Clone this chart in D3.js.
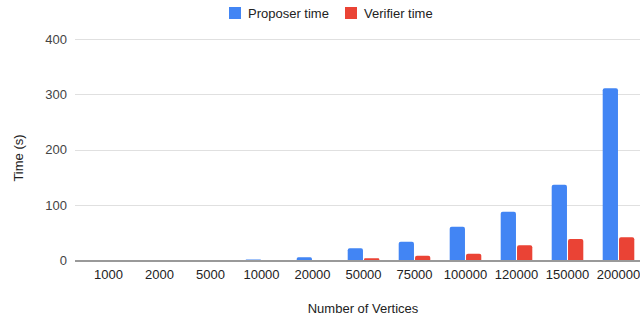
<!DOCTYPE html>
<html><head><meta charset="utf-8">
<script src="https://cdn.jsdelivr.net/npm/d3@7/dist/d3.min.js"></script>
<style>body{margin:0;background:#fff}svg{display:block;font-family:"Liberation Sans",Arial,sans-serif}</style>
</head><body><svg id="c" width="640" height="319"></svg>
<script>
const categories = ["1000","2000","5000","10000","20000","50000","75000","100000","120000","150000","200000"];
const proposerTime = [0.2, 0.4, 0.8, 2, 5.8, 22, 34, 61, 88, 137, 311];
const verifierTime = [0.05, 0.1, 0.2, 0.4, 0.8, 4, 8.7, 12.3, 27.5, 39, 42];
const yTicks = [0, 100, 200, 300, 400];
const seriesNames = ["Proposer time", "Verifier time"];
const colors = ["#4285f4", "#ea4335"];

const svg = d3.select("#c");
const x = d3.scaleBand().domain(categories).range([83, 644]).paddingInner(0).paddingOuter(0);
const y = d3.scaleLinear().domain([0, 400]).range([260.5, 39]);
const xs = d3.scaleBand().domain([0,1]).range([0, 31.6]).paddingInner(0.065);

svg.append("g").selectAll("line").data(yTicks.filter(d=>d>0)).join("line")
  .attr("x1", 75).attr("x2", 640)
  .attr("y1", d=>Math.round(y(d))+0.5).attr("y2", d=>Math.round(y(d))+0.5)
  .attr("stroke", "#e0e0e0").attr("stroke-width", 1);

svg.append("g").selectAll("text").data(yTicks).join("text")
  .attr("x", 67).attr("y", d=>y(d)+4.5).attr("text-anchor","end")
  .attr("font-size", 13).attr("fill", "#444").text(d=>d);

function barPath(x0, w, yTop, yBase){
  const h = yBase - yTop; const r = Math.min(2, h/2, w/2);
  if (h <= 0) return "";
  return `M${x0},${yBase}V${yTop+r}Q${x0},${yTop} ${x0+r},${yTop}H${x0+w-r}Q${x0+w},${yTop} ${x0+w},${yTop+r}V${yBase}Z`;
}
const series = [proposerTime, verifierTime];
series.forEach((vals, si) => {
  svg.append("g").selectAll("path").data(categories).join("path")
    .attr("d", (c,i) => {
      const x0 = x(c) + (x.bandwidth()-31.6)/2 + xs(si);
      return barPath(x0, xs.bandwidth(), y(vals[i]), y(0));
    })
    .attr("fill", colors[si]);
});

svg.append("line").attr("x1", 75).attr("x2", 640).attr("y1", 261).attr("y2", 261)
  .attr("stroke", "#999").attr("stroke-width", 2);

svg.append("g").selectAll("text").data(categories).join("text")
  .attr("x", d=>x(d)+x.bandwidth()/2).attr("y", 279).attr("text-anchor","middle")
  .attr("font-size", 13).attr("fill", "#222").text(d=>d);

svg.append("text").attr("x", 363).attr("y", 313).attr("text-anchor","middle")
  .attr("font-size", 13).attr("fill", "#222").text("Number of Vertices");
svg.append("text").attr("transform", "translate(23,158) rotate(-90)").attr("text-anchor","middle")
  .attr("font-size", 13).attr("fill", "#222").text("Time (s)");

const legX = [229, 345];
seriesNames.forEach((n, i) => {
  svg.append("rect").attr("x", legX[i]).attr("y", 7).attr("width", 12).attr("height", 12).attr("fill", colors[i]);
  svg.append("text").attr("x", legX[i]+19).attr("y", 17.5).attr("font-size", 13).attr("fill", "#222").text(n);
});
</script></body></html>
